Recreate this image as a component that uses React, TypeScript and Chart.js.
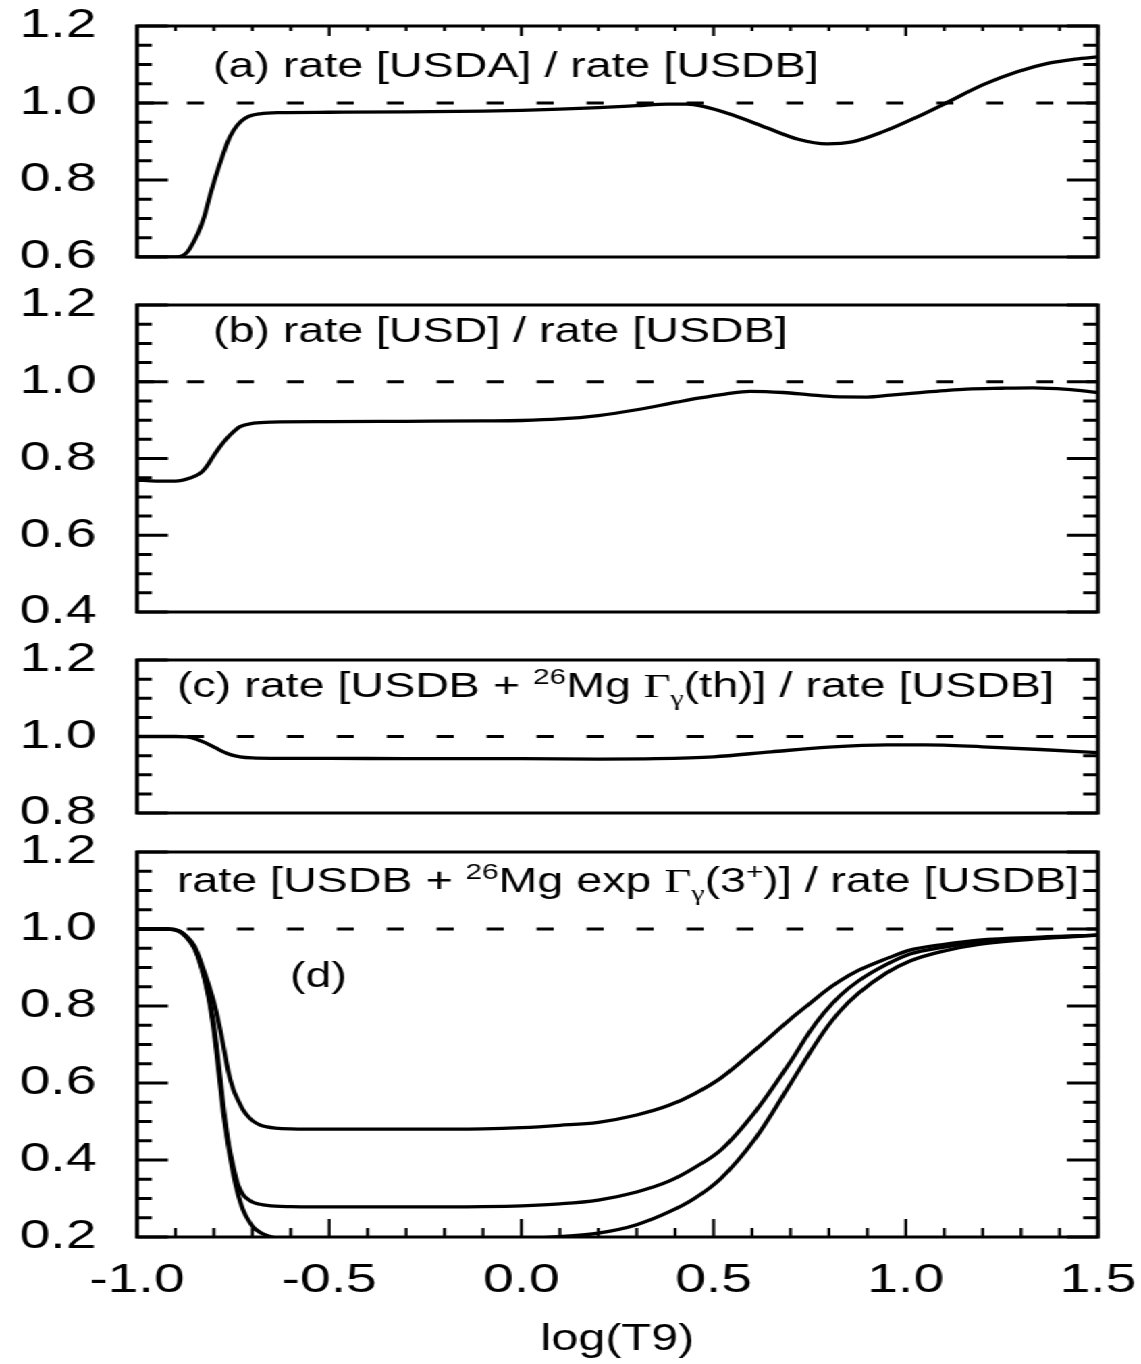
import React, { useEffect, useRef } from 'react';
import Chart from 'chart.js/auto';

// ---------------- data ----------------
const X_MIN = -1.0;
const X_MAX = 1.5;
const xTickValues = [-1.0, -0.5, 0.0, 0.5, 1.0, 1.5];

const yTicksA = [0.6, 0.8, 1.0, 1.2];
const yTicksB = [0.4, 0.6, 0.8, 1.0, 1.2];
const yTicksC = [0.8, 1.0, 1.2];
const yTicksD = [0.2, 0.4, 0.6, 0.8, 1.0, 1.2];

const refLineX = [-1.0, 1.5];
const refLineY = [1.0, 1.0];

// (a) rate[USDA] / rate[USDB]
const xA = [-1.0, -0.93, -0.89, -0.87, -0.855, -0.84, -0.825, -0.81, -0.795, -0.78, -0.765, -0.75, -0.73, -0.71, -0.68, -0.63, -0.5, -0.3, -0.1, 0.0, 0.1, 0.2, 0.3, 0.38, 0.43, 0.47, 0.55, 0.64, 0.72, 0.795, 0.86, 0.94, 1.03, 1.105, 1.2, 1.29, 1.375, 1.44, 1.5];
const yA = [0.600, 0.600, 0.601, 0.612, 0.635, 0.665, 0.705, 0.76, 0.81, 0.855, 0.897, 0.927, 0.952, 0.965, 0.972, 0.975, 0.976, 0.977, 0.979, 0.981, 0.984, 0.988, 0.993, 0.997, 0.997, 0.992, 0.969, 0.935, 0.906, 0.894, 0.899, 0.925, 0.964, 1.0, 1.047, 1.081, 1.104, 1.114, 1.12];

// (b) rate[USD] / rate[USDB]
const xB = [-1.0, -0.95, -0.9, -0.862, -0.836, -0.819, -0.802, -0.784, -0.758, -0.732, -0.697, -0.65, -0.5, -0.3, -0.1, 0.0, 0.1, 0.2, 0.3, 0.4, 0.465, 0.53, 0.595, 0.681, 0.75, 0.811, 0.899, 0.96, 1.029, 1.1, 1.159, 1.25, 1.331, 1.42, 1.5];
const yB = [0.744, 0.741, 0.741, 0.749, 0.761, 0.779, 0.805, 0.831, 0.861, 0.883, 0.892, 0.895, 0.896, 0.897, 0.898, 0.899, 0.903, 0.912, 0.927, 0.946, 0.958, 0.968, 0.975, 0.972, 0.966, 0.961, 0.96, 0.965, 0.971, 0.977, 0.981, 0.983, 0.984, 0.98, 0.972];

// (c) rate[USDB + 26Mg Γγ(th)] / rate[USDB]
const xC = [-1.0, -0.9, -0.87, -0.845, -0.819, -0.795, -0.775, -0.755, -0.732, -0.7, -0.65, -0.5, -0.3, 0.0, 0.2, 0.35, 0.5, 0.65, 0.8, 0.95, 1.05, 1.2, 1.35, 1.5];
const yC = [1.0, 1.0, 0.999, 0.993, 0.982, 0.97, 0.96, 0.952, 0.947, 0.944, 0.943, 0.943, 0.942, 0.942, 0.941, 0.942, 0.947, 0.96, 0.972, 0.978, 0.978, 0.973, 0.966, 0.958];

// (d) rate[USDB + 26Mg exp Γγ(3+)] / rate[USDB], three curves
const xD = [-1.0, -0.92, -0.89, -0.87, -0.85, -0.835, -0.815, -0.8, -0.787, -0.775, -0.763, -0.75, -0.737, -0.724, -0.71, -0.698, -0.68, -0.662, -0.64, -0.6, -0.5, -0.3, -0.1, 0.0, 0.1, 0.2, 0.3, 0.384, 0.45, 0.519, 0.608, 0.7, 0.75, 0.787, 0.83, 0.878, 0.95, 1.011, 1.1, 1.19, 1.35, 1.5];
const yD1 = [1.0, 1.0, 0.995, 0.98, 0.955, 0.918, 0.86, 0.81, 0.755, 0.695, 0.632, 0.585, 0.555, 0.53, 0.512, 0.501, 0.491, 0.486, 0.483, 0.481, 0.48, 0.48, 0.481, 0.484, 0.49, 0.498, 0.517, 0.542, 0.572, 0.613, 0.686, 0.766, 0.806, 0.836, 0.866, 0.893, 0.923, 0.945, 0.96, 0.971, 0.979, 0.984];
const yD2 = [1.0, 1.0, 0.994, 0.978, 0.95, 0.912, 0.835, 0.75, 0.645, 0.538, 0.45, 0.385, 0.335, 0.31, 0.297, 0.29, 0.285, 0.282, 0.28, 0.279, 0.278, 0.278, 0.279, 0.281, 0.286, 0.296, 0.317, 0.345, 0.38, 0.426, 0.525, 0.655, 0.733, 0.782, 0.828, 0.866, 0.908, 0.935, 0.953, 0.966, 0.977, 0.984];
const yD3 = [1.0, 1.0, 0.994, 0.977, 0.948, 0.908, 0.828, 0.735, 0.625, 0.52, 0.44, 0.366, 0.31, 0.27, 0.243, 0.226, 0.212, 0.204, 0.198, 0.193, 0.19, 0.19, 0.192, 0.196, 0.201, 0.21, 0.232, 0.265, 0.3, 0.352, 0.455, 0.598, 0.678, 0.734, 0.788, 0.834, 0.886, 0.917, 0.943, 0.96, 0.975, 0.984];

// ---------------- layout / style ----------------
const PAGE_W = 1141;
const PAGE_H = 1364;
const OFF = 100; // canvases start above the page so every top padding is comfortable
const CH = PAGE_H + OFF;
const W = 845; // internal canvas width, stretched horizontally to PAGE_W
const S = PAGE_W / W;
const LEFT = 137 / S;
const RIGHT_PAD = W - 1098 / S;
const SANS = "'Liberation Sans', Arial, Helvetica, sans-serif";
const SERIF = "'Liberation Serif', 'Times New Roman', serif";
const TXT = 34.5;
const LW = 3.3;

type Seg = { t: string; size?: number; dy?: number; family?: string };
type Note = { x: number; y: number; segs: Seg[] };

const sup = (t: string): Seg => ({ t, size: 22, dy: -13 });
const sub = (t: string): Seg => ({ t, size: 22, dy: 8, family: SERIF });

const pts = (xs: number[], ys: number[]) => xs.map((x, i) => ({ x, y: ys[i] }));

function makePlugin(cfg: { xTop: boolean; xBottom: boolean; xMajor: number; xMinor: number; notes: Note[] }) {
  return {
    id: 'frameTicks',
    afterDatasetsDraw(chart: any) {
      const { ctx, chartArea: a } = chart;
      const xs = chart.scales.x;
      const ys = chart.scales.y;
      ctx.save();
      ctx.strokeStyle = '#000';
      ctx.lineCap = 'butt';
      ctx.lineWidth = 3;
      ctx.beginPath();
      const nY = Math.round((ys.max - ys.min) / 0.05);
      for (let i = 0; i <= nY; i++) {
        const v = ys.min + i * 0.05;
        const k = v / 0.2;
        const major = Math.abs(k - Math.round(k)) < 1e-6;
        const len = major ? 23 : 11;
        const p = ys.getPixelForValue(v);
        ctx.moveTo(a.left, p);
        ctx.lineTo(a.left + len, p);
        ctx.moveTo(a.right, p);
        ctx.lineTo(a.right - len, p);
      }
      ctx.stroke();
      if (cfg.xTop || cfg.xBottom) {
        ctx.lineWidth = 2.2;
        ctx.beginPath();
        const nX = Math.round((xs.max - xs.min) / 0.1);
        for (let i = 0; i <= nX; i++) {
          const v = xs.min + i * 0.1;
          const k = v / 0.5;
          const major = Math.abs(k - Math.round(k)) < 1e-6;
          const len = major ? cfg.xMajor : cfg.xMinor;
          const p = xs.getPixelForValue(v);
          if (cfg.xTop) {
            ctx.moveTo(p, a.top);
            ctx.lineTo(p, a.top + len);
          }
          if (cfg.xBottom) {
            ctx.moveTo(p, a.bottom);
            ctx.lineTo(p, a.bottom - len);
          }
        }
        ctx.stroke();
      }
      ctx.lineWidth = 3;
      ctx.strokeRect(a.left, a.top, a.right - a.left, a.bottom - a.top);
      ctx.restore();
    },
    afterDraw(chart: any) {
      const ctx = chart.ctx;
      ctx.save();
      ctx.fillStyle = '#000';
      ctx.textBaseline = 'alphabetic';
      ctx.textAlign = 'left';
      for (const n of cfg.notes) {
        let cx = n.x;
        for (const s of n.segs) {
          ctx.font = `${s.size ?? TXT}px ${s.family ?? SANS}`;
          ctx.fillText(s.t, cx, n.y + OFF + (s.dy ?? 0));
          cx += ctx.measureText(s.t).width;
        }
      }
      ctx.restore();
    },
  };
}

type PanelDef = {
  top: number;
  bottom: number;
  yMin: number;
  yMax: number;
  yTicks: number[];
  series: { x: number; y: number }[][];
  xTop: boolean;
  xBottom: boolean;
  xMajor: number;
  xMinor: number;
  showX: boolean;
  notes: Note[];
};

const panels: PanelDef[] = [
  {
    top: 26, bottom: 257, yMin: 0.6, yMax: 1.2, yTicks: yTicksA,
    series: [pts(xA, yA)], xTop: true, xBottom: false, xMajor: 10, xMinor: 5, showX: false,
    notes: [{ x: 213 / S, y: 77, segs: [{ t: '(a) rate [USDA] / rate [USDB]' }] }],
  },
  {
    top: 305, bottom: 612, yMin: 0.4, yMax: 1.2, yTicks: yTicksB,
    series: [pts(xB, yB)], xTop: false, xBottom: false, xMajor: 0, xMinor: 0, showX: false,
    notes: [{ x: 213 / S, y: 342, segs: [{ t: '(b) rate [USD] / rate [USDB]' }] }],
  },
  {
    top: 660, bottom: 813, yMin: 0.8, yMax: 1.2, yTicks: yTicksC,
    series: [pts(xC, yC)], xTop: false, xBottom: false, xMajor: 0, xMinor: 0, showX: false,
    notes: [{
      x: 177 / S, y: 697,
      segs: [{ t: '(c) rate [USDB + ' }, sup('26'), { t: 'Mg ' }, { t: 'Γ', family: SERIF }, sub('γ'), { t: '(th)] / rate [USDB]' }],
    }],
  },
  {
    top: 852, bottom: 1237, yMin: 0.2, yMax: 1.2, yTicks: yTicksD,
    series: [pts(xD, yD1), pts(xD, yD2), pts(xD, yD3)], xTop: false, xBottom: true, xMajor: 18, xMinor: 9, showX: true,
    notes: [
      {
        x: 177 / S, y: 892,
        segs: [{ t: 'rate [USDB + ' }, sup('26'), { t: 'Mg exp ' }, { t: 'Γ', family: SERIF }, sub('γ'), { t: '(3' }, sup('+'), { t: ')] / rate [USDB]' }],
      },
      { x: 290 / S, y: 987, segs: [{ t: '(d)' }] },
    ],
  },
];

function buildChart(canvas: HTMLCanvasElement, p: PanelDef) {
  const datasets: any[] = [
    {
      data: pts(refLineX, refLineY),
      borderColor: '#000',
      borderWidth: 3,
      borderDash: [12.6, 24.4],
      pointRadius: 0,
      fill: false,
    },
    ...p.series.map((d) => ({
      data: d,
      borderColor: '#000',
      borderWidth: LW,
      pointRadius: 0,
      fill: false,
      cubicInterpolationMode: 'monotone',
    })),
  ];
  const tickFont = { family: SANS, size: 41 };
  return new Chart(canvas, {
    type: 'line',
    data: { datasets },
    plugins: [makePlugin(p) as any],
    options: {
      animation: false,
      responsive: false,
      maintainAspectRatio: false,
      devicePixelRatio: 1,
      events: [],
      layout: {
        autoPadding: false,
        padding: { top: p.top + OFF, bottom: p.showX ? 0 : PAGE_H - p.bottom, left: 0, right: RIGHT_PAD },
      },
      plugins: { legend: { display: false }, tooltip: { enabled: false } },
      scales: {
        x: {
          type: 'linear',
          min: X_MIN,
          max: X_MAX,
          display: p.showX,
          afterBuildTicks: (s: any) => { s.ticks = xTickValues.map((v) => ({ value: v })); },
          afterFit: (s: any) => {
            if (p.showX) {
              s.height = PAGE_H - p.bottom;
              s.paddingLeft = 0;
              s.paddingRight = 0;
            }
          },
          grid: { display: false, drawTicks: false },
          border: { display: false },
          ticks: {
            color: '#000',
            font: tickFont,
            padding: 19,
            maxRotation: 0,
            autoSkip: false,
            callback: (v: any) => Number(v).toFixed(1),
          },
          title: {
            display: true,
            text: 'log(T9)',
            color: '#000',
            font: { family: SANS, size: 36 },
            padding: { top: 0, bottom: 2 },
          },
        },
        y: {
          type: 'linear',
          min: p.yMin,
          max: p.yMax,
          afterBuildTicks: (s: any) => { s.ticks = p.yTicks.map((v) => ({ value: v })); },
          afterFit: (s: any) => { s.width = LEFT; },
          grid: { display: false, drawTicks: false },
          border: { display: false },
          ticks: {
            color: '#000',
            font: tickFont,
            padding: 30,
            autoSkip: false,
            callback: (v: any) => Number(v).toFixed(1),
          },
        },
      },
    } as any,
  });
}

export default function App() {
  const refs = [useRef<HTMLCanvasElement>(null), useRef<HTMLCanvasElement>(null), useRef<HTMLCanvasElement>(null), useRef<HTMLCanvasElement>(null)];
  useEffect(() => {
    const charts = panels.map((p, i) => buildChart(refs[i].current as HTMLCanvasElement, p));
    return () => charts.forEach((c) => c.destroy());
  }, []);
  return (
    <div style={{ position: 'absolute', left: 0, top: 0, width: PAGE_W, height: PAGE_H, overflow: 'hidden', background: '#fff' }}>
      <div style={{ position: 'absolute', left: 0, top: -OFF, width: W, height: CH, transform: `scaleX(${S})`, transformOrigin: '0 0' }}>
        {panels.map((_, i) => (
          <canvas key={i} ref={refs[i]} width={W} height={CH} style={{ position: 'absolute', left: 0, top: 0 }} />
        ))}
      </div>
    </div>
  );
}
